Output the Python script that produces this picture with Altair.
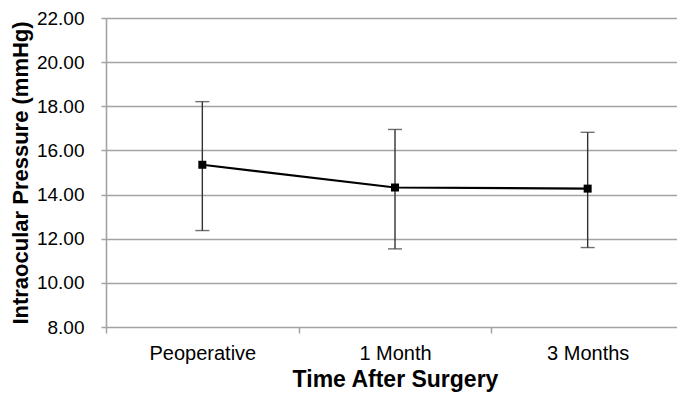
import altair as alt
import pandas as pd

categories = ["Peoperative", "1 Month", "3 Months"]
means = [15.35, 14.32, 14.27]
upper = [18.21, 16.95, 16.82]
lower = [12.37, 11.54, 11.60]
y_ticks = [8, 10, 12, 14, 16, 18, 20, 22]

df = pd.DataFrame({"cat": categories, "mean": means, "hi": upper, "lo": lower})

FONT = "Liberation Sans"
GRID = "#a3a3a3"

x_enc = alt.X(
    "cat:N",
    sort=categories,
    scale=alt.Scale(range=[0, 578], paddingInner=0, paddingOuter=0),
    axis=alt.Axis(
        title="Time After Surgery",
        labelAngle=0,
        labelFontSize=20,
        labelFont=FONT,
        labelColor="#000000",
        labelPadding=10,
        titleFontSize=23,
        titleFont=FONT,
        titleFontWeight="bold",
        titleColor="#000000",
        titlePadding=5,
        domain=False,
        ticks=True,
        tickBand="extent",
        tickSize=6,
        tickColor=GRID,
        tickWidth=1.5,
        grid=False,
    ),
)

y_scale = alt.Scale(domain=[8, 22], nice=False, zero=False)
y_axis = alt.Axis(
    title="Intraocular Pressure (mmHg)",
    values=y_ticks,
    format=".2f",
    labelFontSize=19,
    labelFont=FONT,
    labelColor="#000000",
    labelPadding=17,
    titleFontSize=22,
    titleFont=FONT,
    titleFontWeight="bold",
    titleColor="#000000",
    titlePadding=4,
    grid=True,
    gridColor=GRID,
    gridWidth=1.6,
    domain=True,
    domainColor=GRID,
    domainWidth=1.6,
    ticks=True,
    tickColor=GRID,
    tickSize=5,
    tickWidth=1.5,
)

base = alt.Chart(df)

err = base.mark_rule(color="#333333", strokeWidth=1.4).encode(
    x=x_enc,
    y=alt.Y("lo:Q", scale=y_scale, axis=y_axis),
    y2="hi:Q",
)
cap_hi = base.mark_tick(color="#333333", size=14, thickness=1.4).encode(
    x=alt.X("cat:N", sort=categories), y=alt.Y("hi:Q")
)
cap_lo = base.mark_tick(color="#333333", size=14, thickness=1.4).encode(
    x=alt.X("cat:N", sort=categories), y=alt.Y("lo:Q")
)
line = base.mark_line(color="#000000", strokeWidth=2.2).encode(
    x=alt.X("cat:N", sort=categories), y=alt.Y("mean:Q")
)
pts = base.mark_point(shape="square", filled=True, color="#000000", size=64, opacity=1).encode(
    x=alt.X("cat:N", sort=categories), y=alt.Y("mean:Q")
)

chart = (
    alt.layer(err, cap_hi, cap_lo, line, pts)
    .properties(
        width=571,
        height=309,
        autosize=alt.AutoSizeParams(type="none"),
        padding={"left": 98, "top": 10, "right": 0, "bottom": 66},
        background="#ffffff",
    )
    .configure_view(stroke=None)
)

chart.save("out.html", embed_options={"renderer": "svg", "actions": False})
